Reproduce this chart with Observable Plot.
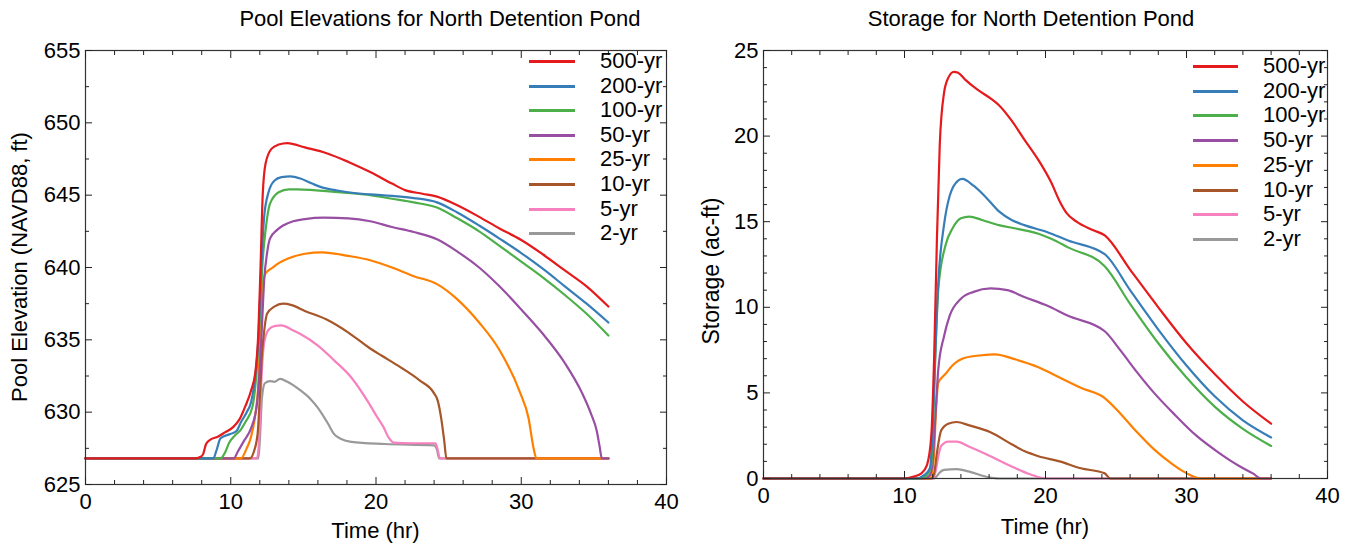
<!DOCTYPE html>
<html><head><meta charset="utf-8">
<script src="https://cdn.jsdelivr.net/npm/d3@7"></script>
<script src="https://cdn.jsdelivr.net/npm/@observablehq/plot@0.6"></script>
<style>
html,body{margin:0;padding:0;background:#fff;}
#root{position:relative;width:1354px;height:548px;overflow:hidden;font-family:"Liberation Sans",Arial,sans-serif;color:#000;}
.panel{position:absolute;top:0;}
.txt{position:absolute;font-size:22px;line-height:1;white-space:nowrap;}
.c{transform:translate(-50%,-50%);}
.r{transform:translate(-50%,-50%) rotate(-90deg);}
.leg{transform:translateY(-50%);}
.sw{position:absolute;height:3px;}
</style></head>
<body><div id="root"></div>
<script>
// ---------- series ----------
const seriesNames = ["500-yr","200-yr","100-yr","50-yr","25-yr","10-yr","5-yr","2-yr"];
const seriesColors = ["#e41a1c","#377eb8","#4daf4a","#984ea3","#ff7f00","#a65628","#f781bf","#999999"];

// ---------- Pool elevation (ft) : [time hr, elevation] ----------
const elev500 = [[0,626.8],[7.5,626.8],[7.9,626.9],[8.1,627.1],[8.3,627.8],[8.6,628.1],[9.1,628.3],[9.6,628.6],[10.2,629.0],[10.6,629.5],[11.0,630.4],[11.4,631.5],[11.7,632.8],[11.9,635.5],[12.05,640],[12.2,645],[12.4,647.2],[12.8,648.2],[13.3,648.5],[13.9,648.6],[15.1,648.3],[16.6,647.9],[18.1,647.3],[19.6,646.6],[21.1,645.8],[22.0,645.35],[23.2,645.1],[24.2,644.9],[25.6,644.3],[27.1,643.5],[28.5,642.7],[30.0,641.9],[31.5,640.9],[33.0,639.8],[34.5,638.7],[36.0,637.3]];
const elev200 = [[0,626.8],[8.8,626.8],[9.0,627.3],[9.3,628.2],[10.0,628.5],[10.4,628.7],[10.7,629.3],[11.1,630.0],[11.4,630.7],[11.7,632.6],[11.9,635],[12.1,640],[12.3,643.5],[12.6,645.2],[13.0,646.0],[13.5,646.25],[14.1,646.3],[14.8,646.15],[15.6,645.8],[16.4,645.5],[17.2,645.35],[18.1,645.2],[19.6,645.05],[21.1,644.95],[22.6,644.8],[24.2,644.5],[25.6,643.8],[27.1,642.9],[28.5,642.0],[30.0,641.0],[31.5,639.9],[33.0,638.7],[34.5,637.5],[36.0,636.2]];
const elev100 = [[0,626.8],[9.3,626.8],[9.6,627.2],[9.9,627.9],[10.3,628.4],[10.7,628.8],[11.0,629.3],[11.5,630.4],[11.8,633.1],[12.0,636.5],[12.2,640.5],[12.4,642.6],[12.7,644.4],[13.3,645.2],[14.0,645.4],[14.6,645.4],[15.7,645.35],[18.1,645.15],[19.6,645.0],[21.1,644.75],[22.6,644.5],[24.2,644.15],[25.6,643.4],[27.1,642.5],[28.5,641.5],[30.0,640.4],[31.5,639.3],[33.0,638.1],[34.5,636.8],[36.0,635.3]];
const elev50 = [[0,626.8],[10.2,626.8],[10.5,627.3],[10.9,628.0],[11.4,628.9],[11.8,630.5],[12.0,633],[12.15,636],[12.3,639.1],[12.5,641.0],[12.7,642.0],[13.2,642.6],[13.6,642.9],[14.3,643.2],[15.1,643.35],[16.4,643.45],[18.1,643.4],[19.6,643.2],[21.1,642.8],[22.6,642.45],[24.2,641.95],[25.6,641.1],[27.1,640.0],[28.5,638.7],[30.0,637.1],[31.5,635.4],[33.0,633.4],[34.2,631.3],[34.8,629.9],[35.2,628.7],[35.4,627.6],[35.55,626.8],[36.0,626.8]];
const elev25 = [[0,626.8],[10.7,626.8],[11.1,627.5],[11.4,628.3],[11.7,629.9],[11.9,632],[12.05,636],[12.2,638.8],[12.4,639.6],[12.9,640.0],[13.3,640.3],[13.9,640.6],[15.1,640.95],[16.3,641.05],[18.1,640.8],[19.6,640.5],[21.1,640.0],[22.6,639.4],[24.2,638.85],[25.6,637.8],[27.1,636.2],[28.5,634.3],[29.9,631.4],[30.5,629.6],[30.85,627.5],[31.05,626.8],[36.0,626.8]];
const elev10 = [[0,626.8],[11.3,626.8],[11.6,627.3],[11.85,628.5],[12.0,631],[12.15,634],[12.3,635.6],[12.5,636.8],[13.0,637.3],[13.6,637.5],[14.2,637.4],[15.1,637.0],[16.6,636.4],[18.1,635.5],[19.6,634.4],[20.4,633.9],[21.7,633.1],[23.0,632.2],[24.0,631.3],[24.25,630.8],[24.5,629.5],[24.7,628.0],[24.85,626.8],[36.0,626.8]];
const elev5 = [[0,626.8],[11.8,626.8],[11.95,628],[12.1,632],[12.3,634.8],[12.6,635.7],[13.0,635.95],[13.5,636.0],[14.2,635.7],[14.8,635.4],[16.0,634.6],[17.1,633.6],[18.3,632.4],[19.4,630.8],[20.0,629.8],[20.5,629.0],[20.9,628.2],[21.2,627.9],[22.5,627.85],[24.1,627.85],[24.25,627.4],[24.4,626.8],[36.0,626.8]];
const elev2 = [[0,626.8],[11.9,626.8],[12.0,628],[12.15,631],[12.35,632.0],[12.7,632.15],[13.0,632.1],[13.4,632.3],[13.9,632.1],[14.8,631.5],[15.5,630.9],[16.0,630.3],[16.7,629.2],[17.1,628.5],[17.6,628.15],[18.3,627.95],[20.6,627.8],[24.0,627.7],[24.2,627.4],[24.35,626.8],[36.0,626.8]];

// ---------- Storage (ac-ft) : [time hr, storage] ----------
const stor500 = [[0,0],[10.0,0],[10.6,0.1],[11.2,0.3],[11.6,0.8],[11.9,2.5],[12.1,7],[12.3,14],[12.5,19.5],[12.8,22.5],[13.1,23.4],[13.5,23.75],[13.8,23.7],[14.3,23.3],[15.2,22.7],[16.1,22.2],[16.7,21.8],[17.6,20.9],[18.5,19.8],[19.5,18.6],[20.4,17.3],[21.0,16.2],[21.5,15.5],[22.2,15.0],[23.4,14.5],[24.2,14.2],[26,12.2],[28,10.0],[30,7.9],[32,6.1],[34,4.5],[36,3.2]];
const stor200 = [[0,0],[10.8,0],[11.4,0.2],[11.8,0.6],[12.0,3],[12.1,5.4],[12.4,11.5],[12.8,14.8],[13.2,16.5],[13.8,17.4],[14.1,17.5],[14.9,17.1],[15.8,16.4],[16.7,15.6],[17.6,15.1],[18.5,14.8],[20.1,14.4],[21.6,13.9],[24.2,13.1],[26,11.0],[28,8.7],[30,6.6],[32,4.8],[34,3.4],[36,2.4]];
const stor100 = [[0,0],[11.1,0],[11.6,0.2],[11.9,0.8],[12.0,2.5],[12.2,7.5],[12.4,11.1],[12.9,13.6],[13.4,14.6],[14.0,15.2],[14.6,15.3],[15.5,15.1],[16.7,14.8],[17.9,14.6],[19.5,14.3],[20.4,14.0],[21.6,13.5],[24.2,12.4],[26,10.2],[28,7.9],[30,5.9],[32,4.2],[34,2.9],[36,1.9]];
const stor50 = [[0,0],[11.4,0],[11.8,0.2],[12.0,1],[12.1,2.3],[12.4,6.4],[12.8,8.3],[13.2,9.5],[14.0,10.5],[14.9,10.9],[16.1,11.1],[17.3,11.0],[18.5,10.6],[20.1,10.1],[21.6,9.5],[24.2,8.6],[25.3,7.5],[26.5,6.2],[27.7,5.0],[29.2,3.7],[30.7,2.5],[32.3,1.5],[33.8,0.7],[34.7,0.3],[35.3,0],[36,0]];
const stor25 = [[0,0],[11.6,0],[11.9,0.2],[12.1,1.5],[12.2,3.4],[12.4,5.6],[12.9,6.1],[13.4,6.6],[14.3,7.05],[15.5,7.2],[16.4,7.25],[17.9,6.95],[19.5,6.5],[21.0,5.9],[22.5,5.3],[24.2,4.7],[25.3,3.8],[26.5,2.7],[27.7,1.7],[28.9,0.9],[29.8,0.4],[30.7,0.05],[31.0,0],[36,0]];
const stor10 = [[0,0],[11.9,0],[12.1,0.3],[12.3,1.5],[12.6,2.8],[13.1,3.2],[13.7,3.3],[14.6,3.1],[16.1,2.7],[17.6,2.0],[18.5,1.6],[19.5,1.3],[21.0,1.0],[22.5,0.6],[24.2,0.3],[24.6,0],[36,0]];
const stor5 = [[0,0],[12.0,0],[12.2,0.4],[12.4,1.3],[12.6,1.9],[13.1,2.15],[13.7,2.15],[14.6,1.85],[16.1,1.3],[17.6,0.7],[18.9,0.25],[20.1,0],[36,0]];
const stor2 = [[0,0],[12.1,0],[12.3,0.15],[12.5,0.35],[12.8,0.5],[13.7,0.55],[14.6,0.4],[15.8,0.1],[16.7,0],[36,0]];

// ---------- axes ----------
const xMajor = [0,10,20,30,40];
const xMinor = [2,4,6,8,12,14,16,18,22,24,26,28,32,34,36,38];
const elevMajor = [625,630,635,640,645,650,655];
const elevMinor = [627.5,632.5,637.5,642.5,647.5,652.5];
const storMajor = [0,5,10,15,20,25];
const storMinor = [1,2,3,4,6,7,8,9,11,12,13,14,16,17,18,19,21,22,23,24];

const titles = ["Pool Elevations for North Detention Pond", "Storage for North Detention Pond"];
const yLabels = ["Pool Elevation (NAVD88, ft)", "Storage (ac-ft)"];
const xLabel = "Time (hr)";

// ---------- build tables ----------
const elevSeries = [elev500, elev200, elev100, elev50, elev25, elev10, elev5, elev2];
const storSeries = [stor500, stor200, stor100, stor50, stor25, stor10, stor5, stor2];
function rows(list) {
  const out = [];
  // draw order: 2-yr first, 500-yr last (on top)
  for (let i = list.length - 1; i >= 0; i--) {
    for (const [t, v] of list[i]) out.push({s: seriesNames[i], t, v});
  }
  return out;
}

const FONT = '"Liberation Sans", Arial, sans-serif';
function chart({data, yDomain, yMajor, yMinor, width, mL, mR, mB}) {
  const tickOpts = {tickFormat: () => "", label: null};
  return Plot.plot({
    width, height: 548,
    marginLeft: mL, marginRight: mR, marginTop: 50, marginBottom: mB,
    x: {domain: [0, 40]},
    y: {domain: yDomain},
    color: {domain: seriesNames, range: seriesColors},
    style: {fontFamily: FONT, fontSize: "22px", color: "#222", background: "transparent", overflow: "visible"},
    marks: [
      Plot.line(data, {x: "t", y: "v", z: "s", stroke: "s", strokeWidth: 2.2, curve: "monotone-x"}),
      Plot.frame({stroke: "#333", strokeWidth: 1.2}),
      Plot.axisX({anchor: "bottom", ticks: xMajor, tickSize: -7, tickPadding: 16, label: null, fill: "#000"}),
      Plot.axisX({anchor: "bottom", ticks: xMinor, tickSize: -4, ...tickOpts}),
      Plot.axisX({anchor: "top", ticks: xMajor, tickSize: -7, ...tickOpts}),
      Plot.axisX({anchor: "top", ticks: xMinor, tickSize: -4, ...tickOpts}),
      Plot.axisY({anchor: "left", ticks: yMajor, tickSize: -7, tickPadding: 12, label: null, fill: "#000"}),
      Plot.axisY({anchor: "left", ticks: yMinor, tickSize: -4, ...tickOpts}),
      Plot.axisY({anchor: "right", ticks: yMajor, tickSize: -7, ...tickOpts}),
      Plot.axisY({anchor: "right", ticks: yMinor, tickSize: -4, ...tickOpts})
    ]
  });
}

const root = document.getElementById("root");
const panels = [
  {left: 0, width: 680, mL: 85, mR: 14, mB: 64, data: rows(elevSeries), yDomain: [625, 655], yMajor: elevMajor, yMinor: elevMinor,
   title: [440, 19], ylab: [19.5, 267], ylabSize: 22, xlab: [375.5, 531], legLine: [529, 575], legText: 600, legY0: 61, legStep: 24.6},
  {left: 680, width: 674, mL: 83, mR: 27, mB: 70, data: rows(storSeries), yDomain: [0, 25], yMajor: storMajor, yMinor: storMinor,
   title: [1031, 19], ylab: [710.5, 271], ylabSize: 23, xlab: [1045, 527], legLine: [1193, 1238], legText: 1263, legY0: 66, legStep: 24.7}
];

function addText(str, x, y, cls) {
  const d = document.createElement("div");
  d.className = "txt " + cls;
  d.style.left = x + "px"; d.style.top = y + "px";
  d.textContent = str;
  root.appendChild(d);
  return d;
}

panels.forEach((p, k) => {
  const holder = document.createElement("div");
  holder.className = "panel";
  holder.style.left = p.left + "px";
  holder.appendChild(chart(p));
  root.appendChild(holder);
  addText(titles[k], p.title[0], p.title[1], "c");
  addText(yLabels[k], p.ylab[0], p.ylab[1], "r").style.fontSize = p.ylabSize + "px";
  addText(xLabel, p.xlab[0], p.xlab[1], "c");
  seriesNames.forEach((name, i) => {
    const y = Math.round(p.legY0 + i * p.legStep);
    const sw = document.createElement("div");
    sw.className = "sw";
    sw.style.left = p.legLine[0] + "px";
    sw.style.width = (p.legLine[1] - p.legLine[0]) + "px";
    sw.style.top = (y - 1) + "px";
    sw.style.background = seriesColors[i];
    root.appendChild(sw);
    addText(name, p.legText, y, "leg");
  });
});
</script>
</body></html>
